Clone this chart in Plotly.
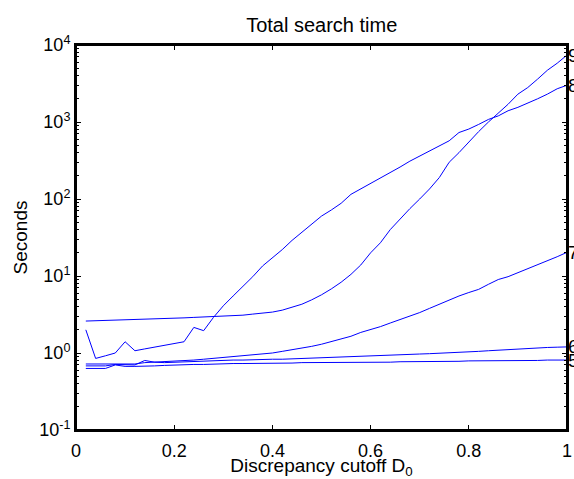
import math
import plotly.graph_objects as go

x = [round(0.02 * i, 2) for i in range(1, 51)]

s9 = [2.6, 2.62, 2.65, 2.68, 2.7, 2.72, 2.75, 2.78, 2.8, 2.83,
      2.86, 2.9, 2.93, 2.96, 3.0, 3.05, 3.1, 3.2, 3.3, 3.4,
      3.6, 3.9, 4.3, 4.9, 5.7, 6.8, 8.3, 10.5, 13.9, 20,
      27, 40, 55, 75, 100, 135, 190, 300, 400, 550,
      750, 1000, 1300, 1700, 2300, 2800, 3600, 4700, 5800, 7400]
s8 = [2.0, 0.85, 0.92, 1.0, 1.4, 1.07, 1.13, 1.19, 1.25, 1.31,
      1.4, 2.15, 1.95, 2.9, 4.1, 5.5, 7.3, 9.8, 13.5, 17,
      22, 29, 37, 47, 60, 72, 88, 115, 135, 160,
      185, 220, 260, 310, 360, 420, 490, 570, 730, 810,
      930, 1080, 1200, 1400, 1550, 1750, 2000, 2300, 2700, 3000]
s7 = [0.72, 0.72, 0.73, 0.73, 0.72, 0.72, 0.75, 0.76, 0.77, 0.78,
      0.79, 0.81, 0.83, 0.85, 0.87, 0.89, 0.91, 0.94, 0.97, 1.0,
      1.05, 1.1, 1.15, 1.22, 1.3, 1.4, 1.52, 1.65, 1.85, 2.0,
      2.2, 2.45, 2.7, 3.0, 3.35, 3.8, 4.3, 4.9, 5.5, 6.1,
      6.7, 7.8, 9.0, 9.8, 11, 12.3, 13.8, 15.5, 17.8, 20.3]
s6 = [0.68, 0.68, 0.68, 0.71, 0.7, 0.7, 0.8, 0.76, 0.75, 0.76,
      0.77, 0.78, 0.78, 0.79, 0.8, 0.81, 0.81, 0.82, 0.82, 0.83,
      0.83, 0.84, 0.85, 0.86, 0.87, 0.88, 0.9, 0.91, 0.91, 0.92,
      0.93, 0.94, 0.95, 0.96, 0.97, 0.98, 0.99, 1.0, 1.02, 1.04,
      1.05, 1.07, 1.09, 1.11, 1.12, 1.14, 1.16, 1.18, 1.19, 1.2]
s5 = [0.63, 0.63, 0.63, 0.7, 0.67, 0.67, 0.67, 0.68, 0.69, 0.7,
      0.7, 0.71, 0.71, 0.72, 0.72, 0.73, 0.73, 0.73, 0.74, 0.74,
      0.74, 0.74, 0.75, 0.75, 0.75, 0.75, 0.76, 0.76, 0.76, 0.76,
      0.76, 0.76, 0.77, 0.77, 0.77, 0.78, 0.78, 0.78, 0.78, 0.79,
      0.79, 0.79, 0.79, 0.8, 0.8, 0.8, 0.8, 0.81, 0.81, 0.81]

series = [("9", s9), ("8", s8), ("7", s7), ("6", s6), ("5", s5)]

xticks = [0, 0.2, 0.4, 0.6, 0.8, 1]
xticktext = ["0", "0.2", "0.4", "0.6", "0.8", "1"]
yticks = [0.1, 1, 10, 100, 1000, 10000]
yticktext = ["10<sup>-1</sup>", "10<sup>0</sup>", "10<sup>1</sup>",
             "10<sup>2</sup>", "10<sup>3</sup>", "10<sup>4</sup>"]

fig = go.Figure()
for name, vals in series:
    fig.add_trace(go.Scatter(x=x, y=vals, mode="lines", name=name,
                             line=dict(color="#0000ff", width=1)))
    fig.add_annotation(x=1, y=math.log10(vals[-1]),
                       xref="paper", yref="y", text=name, showarrow=False,
                       xanchor="left", yanchor="middle", xshift=0,
                       borderpad=0,
                       font=dict(size=19, color="black"))

# axes box
fig.add_shape(type="rect", xref="paper", yref="paper", x0=0, x1=1, y0=0, y1=1,
              line=dict(color="black", width=2), fillcolor="rgba(0,0,0,0)",
              layer="above")

minor_vals = [m * 10 ** e for e in range(-1, 4) for m in range(2, 10)]

font = dict(family="Liberation Sans, Arial, sans-serif", size=18, color="black")
fig.update_layout(
    width=574, height=479,
    margin=dict(l=76, r=7, t=45, b=49, pad=0),
    paper_bgcolor="white", plot_bgcolor="white",
    showlegend=False,
    font=font,
    title=dict(text="Total search time", x=0.5605, xanchor="center",
               y=0.948, yanchor="middle", font=dict(size=20, color="black")),
    xaxis=dict(range=[0, 1], tickvals=xticks, ticktext=xticktext,
               automargin=False,
               ticks="inside", ticklen=5, tickcolor="black", tickwidth=1,
               ticklabeloverflow="allow", ticklabelstandoff=3,
               showline=True, linecolor="black", linewidth=2, mirror="ticks",
               showgrid=False, zeroline=False, tickfont=dict(size=18),
               title=dict(text="Discrepancy cutoff D<sub>0</sub>", standoff=0,
                          font=dict(size=19))),
    yaxis=dict(type="log", range=[-1, 4], tickvals=yticks, ticktext=yticktext,
               automargin=False,
               ticks="inside", ticklen=5, tickcolor="black", tickwidth=1,
               showline=True, linecolor="black", linewidth=2, mirror="ticks",
               showgrid=False, zeroline=False, tickfont=dict(size=18),
               minor=dict(tickvals=minor_vals, ticks="inside", ticklen=3,
                          tickcolor="black", tickwidth=1, showgrid=False),
               title=dict(text="Seconds", standoff=7, font=dict(size=19))),
)
fig.write_html(
    "out.html",
    config={"displayModeBar": False},
    post_script="document.body.style.margin='0';document.body.style.overflow='hidden';",
)
